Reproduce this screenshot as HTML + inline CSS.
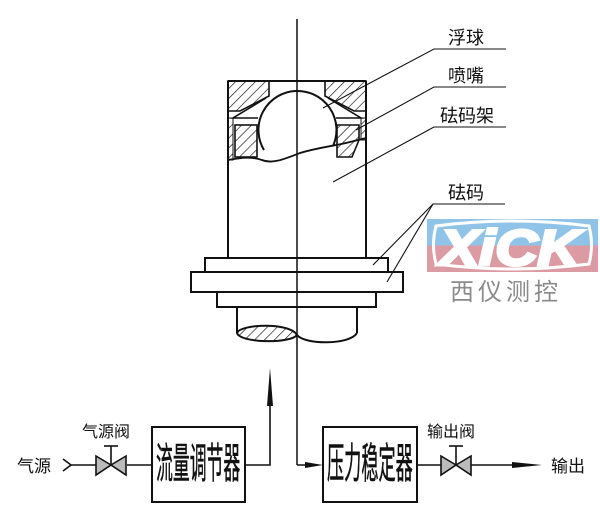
<!DOCTYPE html>
<html><head><meta charset="utf-8"><style>
html,body{margin:0;padding:0;background:#fff;}
svg{display:block;}
text{font-family:"Liberation Sans","Noto Sans CJK SC",sans-serif;fill:#111;}
</style></head><body>
<svg width="600" height="524" viewBox="0 0 600 524" xmlns="http://www.w3.org/2000/svg">
<defs>
<pattern id="h" width="7" height="7" patternUnits="userSpaceOnUse" patternTransform="rotate(45)">
<line x1="0" y1="0" x2="0" y2="7" stroke="#111" stroke-width="1.3"/>
</pattern>
<linearGradient id="lg" x1="0" y1="0" x2="0" y2="1">
<stop offset="0.5" stop-color="#8fc4e8"/><stop offset="0.5" stop-color="#dc9aa2"/>
</linearGradient>
</defs>
<g stroke="#111" fill="none" stroke-width="2">
<line x1="228" y1="81" x2="228" y2="258"/>
<line x1="366" y1="81" x2="366" y2="258"/>
<line x1="228" y1="81" x2="366" y2="81"/>
<polygon points="228,81 269,81 269,96 240,111 228,111" fill="url(#h)" stroke-width="1.6"/>
<polygon points="366,81 325,81 325,96 354,111 366,111" fill="url(#h)" stroke-width="1.6"/>
<polyline points="266,98 233,118 258,118" stroke-width="1.6"/>
<polyline points="328,98 361,118 336,118" stroke-width="1.6"/>
<rect x="235" y="125" width="22" height="32" fill="url(#h)" stroke-width="1.6"/>
<polygon points="337,125 359,125 359,140 352,157 337,157" fill="url(#h)" stroke-width="1.6"/>
<rect x="228" y="118" width="5" height="42" fill="url(#h)" stroke-width="1"/>
<rect x="361" y="118" width="5" height="22" fill="url(#h)" stroke-width="1"/>
<path d="M264,150 A39,39 0 1 1 333,146" fill="#fff"/>
<path d="M228,160 C240,158 250,156 262,160 C272,164 282,160 300,153 C320,147 335,146 350,142 C358,140 362,139 366,138" stroke-width="1.8"/>
<rect x="205" y="258" width="183" height="14" fill="#fff"/>
<rect x="191" y="272" width="212" height="20" fill="#fff"/>
<rect x="217" y="292" width="159" height="15" fill="#fff"/>
<line x1="237" y1="307" x2="237" y2="333"/>
<line x1="357" y1="307" x2="357" y2="333"/>
<path d="M237,333 C240,324 290,322 297,335 C290,344 240,343 237,333 Z" fill="url(#h)"/>
<path d="M297,335 C305,345 350,345 357,333"/>
</g>
<line x1="297" y1="19" x2="297" y2="465" stroke="#111" stroke-width="1.5"/>
<line x1="297" y1="465" x2="310" y2="465" stroke="#111" stroke-width="1.5"/>
<polygon points="305,462 323,465 305,468" fill="#111"/>
<g stroke="#111" stroke-width="1.1" fill="none">
<polyline points="323,108 434,49 506,49"/>
<polyline points="356,130 434,87 506,87"/>
<polyline points="333,182 434,127 506,127"/>
<polyline points="373,265 433,204 505,204"/>
<polyline points="387,282 433,204"/>
</g>
<text x="448" y="44" font-size="18">浮球</text>
<text x="448" y="82" font-size="18">喷嘴</text>
<text x="440" y="122" font-size="18">砝码架</text>
<text x="448" y="199" font-size="18">砝码</text>
<rect x="427" y="219" width="171" height="53" fill="url(#lg)"/>
<path d="M436,226 Q512,216 589,226 Q594,245 589,264 Q512,274 436,264 Q431,245 436,226 Z" fill="none" stroke="#fff" stroke-width="3"/>
<text x="440" y="265" font-size="50" font-style="italic" font-weight="bold" style="fill:#fff;stroke:#fff;stroke-width:3" textLength="140" lengthAdjust="spacingAndGlyphs">XiCK</text>
<text x="450" y="300" font-size="24" style="fill:#8a8a8a" letter-spacing="4">西仪测控</text>
<g stroke="#111" stroke-width="1.6" fill="none">
<polyline points="63,459 71,465 63,471"/>
<line x1="71" y1="465" x2="96" y2="465"/>
<line x1="127" y1="465" x2="152" y2="465"/>
<line x1="111" y1="446" x2="111" y2="465"/>
<line x1="104" y1="446" x2="118" y2="446"/>
<polygon points="96,456 111,465 96,475" fill="#bbb"/>
<polygon points="126,456 111,465 126,475" fill="#bbb"/>
<rect x="152" y="427" width="93" height="75" stroke-width="2"/>
<polyline points="245,465 270,465 270,395"/>
<rect x="323" y="427" width="94" height="75" stroke-width="2"/>
<line x1="417" y1="465" x2="441" y2="465"/>
<line x1="456" y1="446" x2="456" y2="465"/>
<line x1="449" y1="446" x2="463" y2="446"/>
<polygon points="441,456 456,465 441,475" fill="#bbb"/>
<polygon points="471,456 456,465 471,475" fill="#bbb"/>
<line x1="471" y1="465" x2="515" y2="465"/>
</g>
<polygon points="267,406 270,368 273,406" fill="#111"/>
<polygon points="512,462 542,465 512,468" fill="#111"/>
<text x="17" y="472" font-size="17">气源</text>
<text x="82" y="437" font-size="16">气源阀</text>
<text x="427" y="437" font-size="16">输出阀</text>
<text x="551" y="472" font-size="17">输出</text>
<text x="0" y="0" font-size="22" transform="translate(156,478) scale(0.78,1.9)" textLength="108" lengthAdjust="spacingAndGlyphs" style="stroke:#111;stroke-width:0.3">流量调节器</text>
<text x="0" y="0" font-size="22" transform="translate(327,478) scale(0.78,1.9)" textLength="110" lengthAdjust="spacingAndGlyphs" style="stroke:#111;stroke-width:0.3">压力稳定器</text>
</svg>
</body></html>
